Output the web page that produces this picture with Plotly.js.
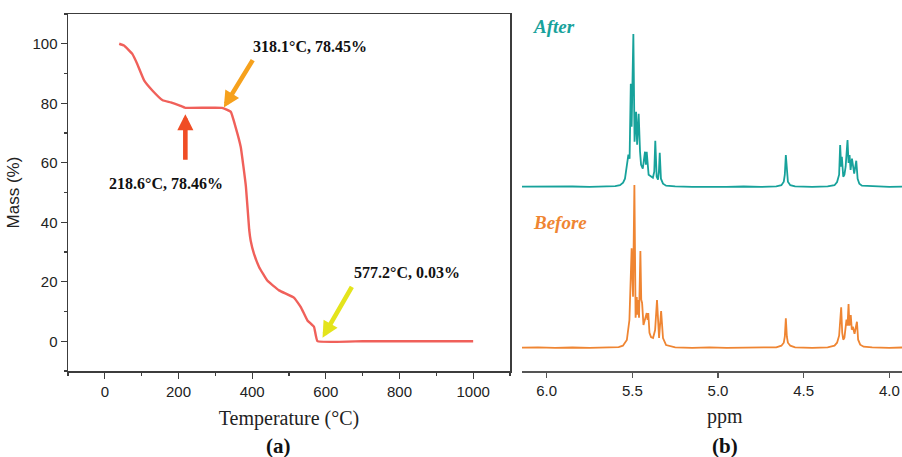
<!DOCTYPE html>
<html>
<head>
<meta charset="utf-8">
<script src="https://cdn.plot.ly/plotly-3.0.1.min.js"></script>
<style>html,body{margin:0;padding:0;background:#fff;}#chart{width:902px;height:457px;}</style>
</head>
<body>
<div id="chart"></div>
<script>
// ---- (a) TGA data ----
const tempC = [39, 52, 75, 88, 107, 129, 157, 179, 202, 218.6, 318.1, 342, 355, 369, 383, 392, 396, 405, 419, 441, 473, 514, 532, 550, 568, 577.2, 700, 850, 1000];
const massPct = [100, 99.4, 96.5, 93.2, 87.6, 84.3, 81, 80.3, 79.3, 78.46, 78.45, 77.1, 72, 65.3, 52, 37.4, 33.8, 29.4, 24.9, 20.4, 17.1, 14.6, 11.5, 7, 4.8, 0.03, 0.02, 0.01, 0];
const markT = [218.6, 318.1, 577.2];
const markM = [78.46, 78.45, 0.03];
const markLabels = ['218.6°C, 78.46%', '318.1°C, 78.45%', '577.2°C, 0.03%'];
const xTicksA = [0, 200, 400, 600, 800, 1000];
const yTicksA = [0, 20, 40, 60, 80, 100];

// ---- (b) NMR data (ppm, relative intensity) ----
const afterPpm = [
  6.144, 6.05, 5.95, 5.85, 5.75, 5.65, 5.60,
  5.572, 5.554, 5.543, 5.532, 5.523, 5.516, 5.509, 5.504, 5.494, 5.487, 5.478, 5.472, 5.463, 5.455, 5.449, 5.439, 5.430, 5.426, 5.421, 5.416, 5.405, 5.391, 5.380, 5.372, 5.366, 5.358, 5.350, 5.345, 5.340, 5.333, 5.321, 5.303,
  5.25, 5.15, 5.05, 4.95, 4.85, 4.75, 4.66,
  4.63, 4.616, 4.610, 4.604, 4.598, 4.592, 4.578,
  4.55, 4.45, 4.36,
  4.32, 4.305, 4.293, 4.287, 4.281, 4.277, 4.269, 4.262, 4.255, 4.244, 4.238, 4.232, 4.226, 4.218, 4.205, 4.193, 4.185, 4.175, 4.160,
  4.10, 4.00, 3.926];
const afterInt = [
  0, 0.2, -0.2, 0.2, -0.1, 0.2, 0.5,
  1.5, 4, 8, 20, 32, 28, 103, 60, 152.7, 45, 75, 42, 73, 35, 22, 18, 30, 35, 22, 35, 12, 10, 9, 15, 46, 10, 7, 15, 34, 8, 3, 1,
  0.3, -0.2, 0.2, -0.1, 0.2, -0.2, 0.3,
  1.5, 5, 12, 31.7, 12, 5, 1.5,
  0.3, -0.1, 0.4,
  1.5, 4.7, 12, 41.7, 20, 30, 10, 12, 20, 46.7, 23.7, 31.7, 16.7, 28, 13, 26, 8, 3, 1,
  0.3, -0.2, 0.1];
const beforePpm = [
  6.144, 6.05, 5.95, 5.85, 5.75, 5.65, 5.58,
  5.555, 5.545, 5.532, 5.517, 5.504, 5.496, 5.488, 5.481, 5.474, 5.471, 5.467, 5.461, 5.453, 5.448, 5.443, 5.435, 5.416, 5.411, 5.407, 5.400, 5.391, 5.379, 5.367, 5.356, 5.344, 5.332, 5.321, 5.303,
  5.25, 5.15, 5.05, 4.95, 4.85, 4.75, 4.66,
  4.63, 4.616, 4.610, 4.604, 4.598, 4.592, 4.578,
  4.55, 4.45, 4.36,
  4.32, 4.305, 4.293, 4.281, 4.275, 4.269, 4.262, 4.250, 4.244, 4.238, 4.233, 4.225, 4.219, 4.213, 4.203, 4.189, 4.182, 4.170, 4.150,
  4.10, 4.00, 3.926];
const beforeInt = [
  0, 0.3, -0.2, 0.2, -0.2, 0.3, 0.6,
  2, 4, 7.7, 27.7, 99.4, 51, 162.7, 30, 50.7, 33, 47.7, 30, 96.7, 48, 44.7, 22.7, 34.7, 27.7, 34.7, 15, 10.7, 9.7, 17.7, 47.7, 9.7, 36.7, 9.7, 2.7,
  0.4, -0.2, 0.3, -0.2, 0.2, -0.1, 0.4,
  2, 5, 11, 29.4, 11, 5, 2,
  0.3, -0.2, 0.4,
  2, 5, 12, 40.4, 15, 8, 10, 28, 22, 43.7, 22, 32.7, 18, 21, 14, 26, 8, 3, 1,
  0.3, -0.2, 0.2];
const spectraNames = ['After', 'Before'];
const xTicksB = [6.0, 5.5, 5.0, 4.5, 4.0];

// ---- styling / placement ----
const afterBase = 184.3, beforeBase = 23.3;
const tgaColor = '#f0605a';
const afterColor = '#17a29b';
const beforeColor = '#ef8532';
const arrowColors = ['#f04d25', '#f6a11c', '#e4e41c'];
const axisColor = '#3c3c3c';
const sans = 'Liberation Sans, Arial, sans-serif';
const serif = 'Liberation Serif, Times New Roman, serif';

const traces = [
  {x: tempC, y: massPct, type: 'scatter', mode: 'lines', line: {color: tgaColor, width: 2.4, shape: 'spline', smoothing: 0.3}, xaxis: 'x', yaxis: 'y', showlegend: false, hoverinfo: 'x+y'},
  {x: afterPpm, y: afterInt.map(v => v + afterBase), type: 'scatter', mode: 'lines', name: spectraNames[0], line: {color: afterColor, width: 1.8}, xaxis: 'x2', yaxis: 'y2', showlegend: false},
  {x: beforePpm, y: beforeInt.map(v => v + beforeBase), type: 'scatter', mode: 'lines', name: spectraNames[1], line: {color: beforeColor, width: 1.8}, xaxis: 'x2', yaxis: 'y2', showlegend: false}
];

// arrow tails / heads / labels (data coords) for each marked point
const arrowTail = [[218.6, 60.5], [404, 95], [673, 18.8]];
const arrowHead = [[218.6, 76.3], [323, 78.6], [591, 1.2]];
const labelPos = [[165, 52.9], [558, 99.2], [821, 23.2]];

const annotations = [];
for (let i = 0; i < markT.length; i++) {
  annotations.push({
    xref: 'x', yref: 'y', axref: 'x', ayref: 'y',
    x: arrowHead[i][0], y: arrowHead[i][1], ax: arrowTail[i][0], ay: arrowTail[i][1],
    text: '', showarrow: true, arrowhead: 2, arrowsize: 0.7, arrowwidth: 4.6, arrowcolor: arrowColors[i], standoff: 0
  });
  annotations.push({
    xref: 'x', yref: 'y', x: labelPos[i][0], y: labelPos[i][1], xanchor: 'center', yanchor: 'middle',
    text: '<b>' + markLabels[i] + '</b>',
    showarrow: false, font: {family: serif, size: 16, color: '#111'}
  });
}
annotations.push({xref: 'x2', yref: 'y2', x: 5.957, y: 345, xanchor: 'center', yanchor: 'middle', text: '<b><i>' + spectraNames[0] + '</i></b>', showarrow: false, font: {family: serif, size: 19, color: afterColor}});
annotations.push({xref: 'x2', yref: 'y2', x: 5.922, y: 149, xanchor: 'center', yanchor: 'middle', text: '<b><i>' + spectraNames[1] + '</i></b>', showarrow: false, font: {family: serif, size: 19, color: beforeColor}});
// panel letters and right x-title
const px = p => (p - 68) / 834, py = p => (371 - p) / 357;
annotations.push({xref: 'paper', yref: 'paper', x: px(725), y: py(416), xanchor: 'center', yanchor: 'middle', text: 'ppm', showarrow: false, font: {family: serif, size: 20, color: '#222'}});
annotations.push({xref: 'paper', yref: 'paper', x: px(278), y: py(446), xanchor: 'center', yanchor: 'middle', text: '<b>(a)</b>', showarrow: false, font: {family: serif, size: 21, color: '#111'}});
annotations.push({xref: 'paper', yref: 'paper', x: px(725), y: py(446), xanchor: 'center', yanchor: 'middle', text: '<b>(b)</b>', showarrow: false, font: {family: serif, size: 21, color: '#111'}});

const layout = {
  width: 902, height: 457,
  margin: {l: 68, r: 0, t: 14, b: 86},
  paper_bgcolor: '#fff', plot_bgcolor: '#fff',
  showlegend: false,
  xaxis: {
    domain: [0, 442 / 834], range: [-100, 1100], tickvals: xTicksA,
    showline: true, mirror: true, linecolor: axisColor, linewidth: 1.5,
    ticks: 'outside', ticklen: 6, tickwidth: 1.3, tickcolor: axisColor,
    minor: {dtick: 100, ticks: 'outside', ticklen: 3, tickcolor: axisColor, tickwidth: 1.2},
    showgrid: false, zeroline: false,
    tickfont: {family: sans, size: 15, color: '#222'},
    title: {text: 'Temperature (°C)', font: {family: serif, size: 20, color: '#222'}, standoff: 12}
  },
  yaxis: {
    domain: [0, 1], range: [-10, 110], tickvals: yTicksA,
    showline: true, mirror: true, linecolor: axisColor, linewidth: 1.5,
    ticks: 'outside', ticklen: 6, tickwidth: 1.3, tickcolor: axisColor,
    minor: {dtick: 10, ticks: 'outside', ticklen: 3, tickcolor: axisColor, tickwidth: 1.2},
    showgrid: false, zeroline: false,
    tickfont: {family: sans, size: 15, color: '#222'},
    title: {text: 'Mass (%)', font: {family: sans, size: 17, color: '#222'}, standoff: 8}
  },
  xaxis2: {
    domain: [454 / 834, 1], range: [6.144, 3.926], anchor: 'y2', tickvals: xTicksB, tickformat: '.1f',
    showline: true, linecolor: '#555', linewidth: 1.5,
    ticks: 'outside', ticklen: 5, tickwidth: 1.3, tickcolor: '#555',
    showgrid: false, zeroline: false,
    tickfont: {family: sans, size: 15, color: '#222'}
  },
  yaxis2: {domain: [0, 1], range: [0, 357], anchor: 'x2', visible: false},
  annotations: annotations
};

Plotly.newPlot('chart', traces, layout, {displayModeBar: false, staticPlot: true});
</script>
</body>
</html>
